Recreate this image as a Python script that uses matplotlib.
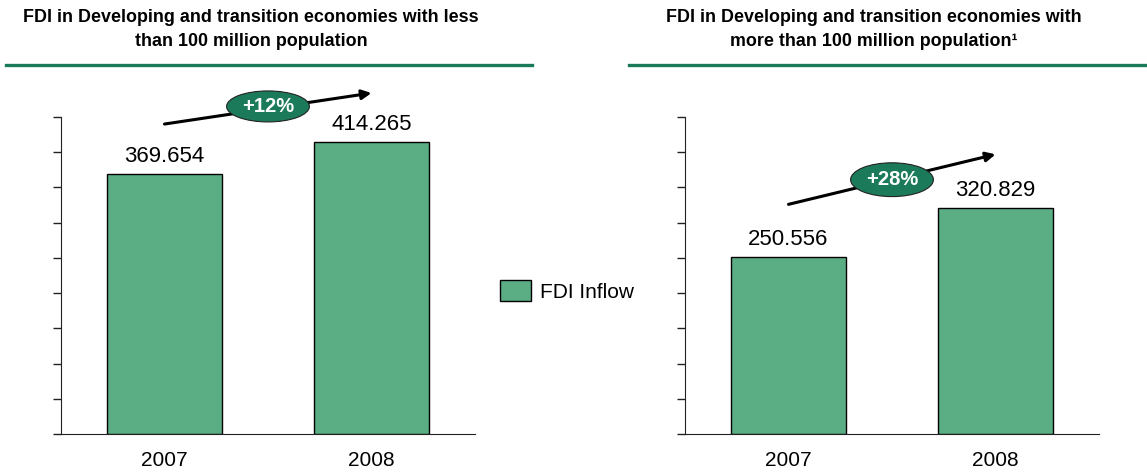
import matplotlib.pyplot as plt
from matplotlib.patches import Ellipse, Patch
from matplotlib.lines import Line2D

plt.rcParams['font.family'] = ['Liberation Sans', 'DejaVu Sans']

years = ['2007', '2008']
small_pop = [369.654, 414.265]
large_pop = [250.556, 320.829]
growth = ['+12%', '+28%']
titles = [['FDI in Developing and transition economies with less',
           'than 100 million population'],
          ['FDI in Developing and transition economies with',
           'more than 100 million population¹']]

bar_color = '#5bae84'
dark_green = '#1a7a5a'

W, H = 1147, 473
fig = plt.figure(figsize=(W / 100, H / 100), dpi=100)


def px_axes(x0, x1, y0, y1):
    return fig.add_axes([x0 / W, 1 - y1 / H, (x1 - x0) / W, (y1 - y0) / H])


def panel(ax, values, label, arrow_start, arrow_end, oval_y, oval_h):
    x = range(len(values))
    ax.bar(x, values, width=0.555, color=bar_color, edgecolor='black', linewidth=1)
    for xi, v in zip(x, values):
        ax.text(xi, v + 10, f'{v:.3f}', ha='center', va='bottom', fontsize=16)
    ax.set_xlim(-0.5, 1.5)
    ax.set_ylim(0, 450)
    ax.set_yticks(range(0, 451, 50))
    ax.set_yticklabels([])
    ax.set_xticks(list(x))
    ax.set_xticklabels(years, fontsize=15)
    ax.tick_params(axis='x', length=0, pad=12)
    ax.tick_params(axis='y', direction='out', length=6, width=1, color='#222222')
    for s in ['top', 'right']:
        ax.spines[s].set_visible(False)
    for s in ['left', 'bottom']:
        ax.spines[s].set_color('#222222')
    # growth arrow with the percentage oval on it
    ax.annotate('', xy=arrow_end, xytext=arrow_start, annotation_clip=False,
                arrowprops=dict(arrowstyle='-|>', color='black', lw=2.2,
                                mutation_scale=14, shrinkA=0, shrinkB=0))
    ax.add_patch(Ellipse((0.5, oval_y), 0.40, oval_h, facecolor=dark_green,
                         edgecolor='#222222', lw=0.8, clip_on=False, zorder=5))
    ax.text(0.5, oval_y, label, color='white', fontsize=14.5, fontweight='bold',
            ha='center', va='center', zorder=6)


ax1 = px_axes(61, 475, 117, 434)
panel(ax1, small_pop, growth[0], (0.0, 440), (1.0, 484), 465, 44)

ax2 = px_axes(685, 1099, 117, 434)
panel(ax2, large_pop, growth[1], (0.0, 326), (1.0, 397), 361, 48)

# panel headings and green rules
for cx, lines in zip([251, 874], titles):
    for ty, line in zip([18, 42], lines):
        fig.text(cx / W, 1 - ty / H, line, ha='center', va='center',
                 fontsize=12.9, fontweight='bold')
for x0, x1 in [(6, 532), (629, 1147)]:
    fig.add_artist(Line2D([x0 / W, x1 / W], [1 - 65 / H, 1 - 65 / H],
                          color=dark_green, lw=2.4))

fig.legend(handles=[Patch(facecolor=bar_color, edgecolor='black', lw=1, label='FDI Inflow')],
           loc='center left', bbox_to_anchor=(500 / W, 1 - 291 / H), frameon=False,
           fontsize=15, handlelength=1.5, handleheight=1.15, handletextpad=0.4,
           borderpad=0, borderaxespad=0)

fig.savefig('out.png', dpi=100)
